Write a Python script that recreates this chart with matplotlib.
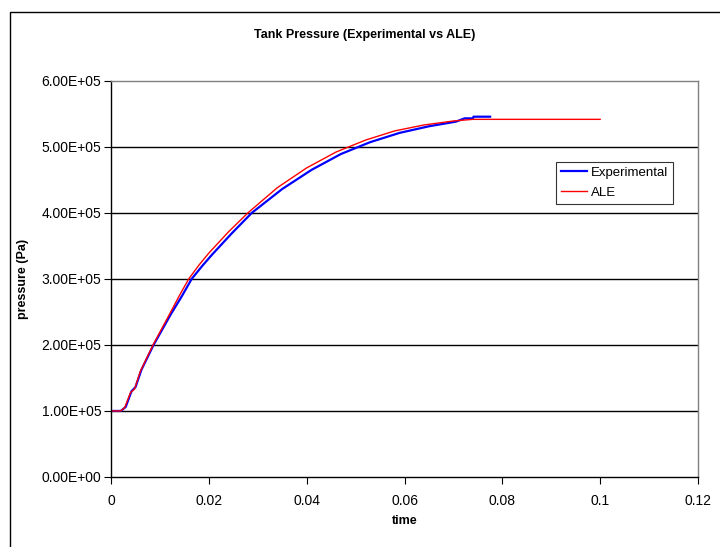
import matplotlib
matplotlib.use("Agg")
import matplotlib.pyplot as plt
from matplotlib.patches import Rectangle
from matplotlib.ticker import FuncFormatter

plt.rcParams['font.family'] = ['Liberation Sans', 'DejaVu Sans']

# Experimental tank pressure
exp_time = [0.0, 0.002, 0.003, 0.0042, 0.005, 0.0062, 0.0087, 0.0122, 0.0145,
            0.0165, 0.0187, 0.0207, 0.0247, 0.0288, 0.035, 0.041, 0.047, 0.053,
            0.059, 0.065, 0.0705, 0.0723, 0.074, 0.0741, 0.0775]
exp_pressure = [1.0e5, 1.0e5, 1.06e5, 1.30e5, 1.36e5, 1.62e5, 2.0e5, 2.46e5, 2.74e5,
                3.0e5, 3.2e5, 3.37e5, 3.69e5, 4.0e5, 4.36e5, 4.65e5, 4.89e5, 5.07e5,
                5.21e5, 5.31e5, 5.38e5, 5.43e5, 5.43e5, 5.455e5, 5.455e5]

# ALE simulation
ale_time = [0.0, 0.002, 0.0028, 0.004, 0.0048, 0.006, 0.0086, 0.012, 0.014,
            0.0159, 0.018, 0.020, 0.024, 0.028, 0.034, 0.040, 0.046, 0.052,
            0.058, 0.064, 0.070, 0.074, 0.1]
ale_pressure = [1.0e5, 1.0e5, 1.05e5, 1.28e5, 1.33e5, 1.60e5, 2.0e5, 2.47e5, 2.75e5,
                3.0e5, 3.21e5, 3.39e5, 3.71e5, 4.0e5, 4.38e5, 4.68e5, 4.92e5, 5.10e5,
                5.24e5, 5.33e5, 5.39e5, 5.415e5, 5.415e5]

x_ticks = [0, 0.02, 0.04, 0.06, 0.08, 0.1, 0.12]
x_tick_labels = ['0', '0.02', '0.04', '0.06', '0.08', '0.1', '0.12']
y_ticks = [0, 1e5, 2e5, 3e5, 4e5, 5e5, 6e5]

W, H = 720, 547
fig = plt.figure(figsize=(W / 100, H / 100), dpi=100)

# chart-area border (cropped on right and bottom)
fig.patches.append(Rectangle((10 / W, -0.1), 2.0, (H - 12) / H + 0.1,
                             transform=fig.transFigure, fill=False,
                             edgecolor='black', linewidth=1.0))

ax = fig.add_axes([111 / W, (H - 477) / H, (698 - 111) / W, (477 - 80.7) / H])

ax.plot(exp_time, exp_pressure, color='#0000ff', linewidth=1.6, label='Experimental')
ax.plot(ale_time, ale_pressure, color='#ff0000', linewidth=1.0, label='ALE')

ax.set_xlim(0, 0.12)
ax.set_ylim(0, 6e5)
ax.set_xticks(x_ticks)
ax.set_xticklabels(x_tick_labels)
ax.set_yticks(y_ticks)
ax.yaxis.set_major_formatter(FuncFormatter(lambda v, p: f"{v:.2E}"))
ax.tick_params(labelsize=10, direction='out', length=5, width=0.8, colors='black')
ax.tick_params(axis='y', pad=2)
ax.tick_params(axis='x', pad=7)

for y in y_ticks[1:-1]:
    ax.axhline(y, color='black', linewidth=1.0, zorder=0)

ax.spines['left'].set_color('black')
ax.spines['bottom'].set_color('black')
ax.spines['top'].set_color('#808080')
ax.spines['right'].set_color('#808080')
for s in ax.spines.values():
    s.set_linewidth(1.0)

ax.set_xlabel('time', fontsize=9, fontweight='bold')
ax.set_ylabel('pressure (Pa)', fontsize=9, fontweight='bold')
ax.xaxis.set_label_coords(0.5, (477 - 515) / 396.3)
ax.yaxis.set_label_coords((29 - 111) / 587, 0.5)
fig.text(365 / W, 1 - 35 / H, 'Tank Pressure (Experimental vs ALE)',
         ha='center', va='center', fontsize=9, fontweight='bold')

leg = ax.legend(loc='upper left', bbox_to_anchor=((556 - 111) / 587, (477 - 162) / 396.3),
                fontsize=9.5, frameon=True, fancybox=False, handlelength=2.0,
                handletextpad=0.3, borderpad=0.35, labelspacing=0.6,
                borderaxespad=0)
leg.get_frame().set_edgecolor('black')
leg.get_frame().set_linewidth(0.8)

fig.savefig('out.png', dpi=100)
